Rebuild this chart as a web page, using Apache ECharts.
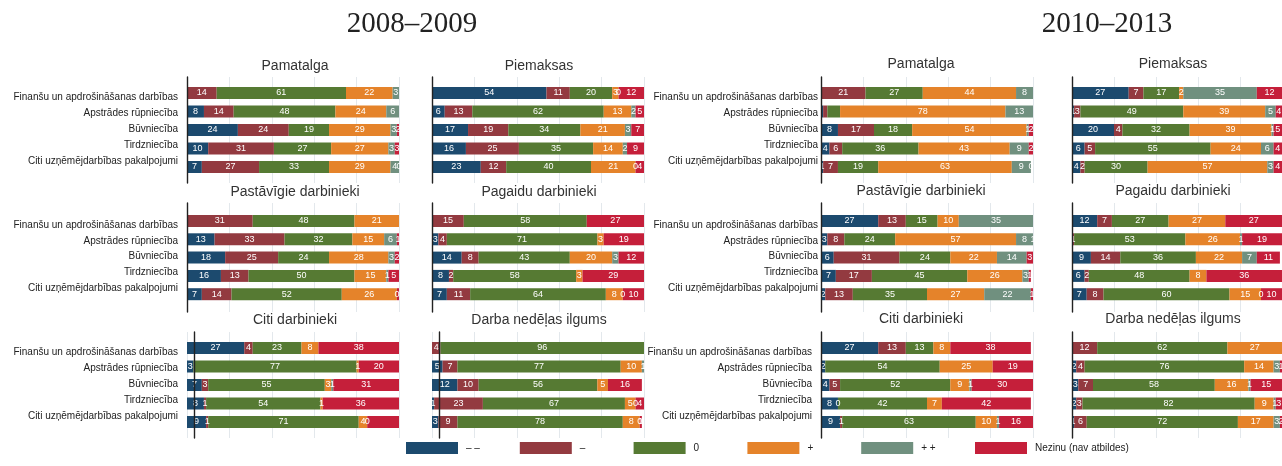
<!DOCTYPE html>
<html>
<head>
<meta charset="utf-8">
<style>
html, body {margin: 0; padding: 0; background: #fff;}
#chart {width: 1282px; height: 466px;}
</style>
</head>
<body>
<div id="chart"></div>
<script src="https://cdn.jsdelivr.net/npm/echarts@6/dist/echarts.min.js"></script>
<script>
// kategorijas (rindas) un atbilžu grupas (segmenti)
var categories = ['Finanšu un apdrošināšanas darbības', 'Apstrādes rūpniecība', 'Būvniecība', 'Tirdzniecība', 'Citi uzņēmējdarbības pakalpojumi'];
var answers = ['– –', '–', '0', '+', '+ +', 'Nezinu (nav atbildes)'];
var periods = ['2008–2009', '2010–2013'];
var panelTitles = ['Pamatalga', 'Piemaksas', 'Pastāvīgie darbinieki', 'Pagaidu darbinieki', 'Citi darbinieki', 'Darba nedēļas ilgums'];

// katrā rindā: – –, –, 0, +, + +, nezinu (%)
var pamatalga0809 = [
  [null, 14, 61, 22, 3, null],
  [8, 14, 48, 24, 6, null],
  [24, 24, 19, 29, 3, 2],
  [10, 31, 27, 27, 3, 3],
  [7, 27, 33, 29, 4, 0]
];
var piemaksas0809 = [
  [54, 11, 20, 3, 0, 12],
  [6, 13, 62, 13, 2, 5],
  [17, 19, 34, 21, 3, 7],
  [16, 25, 35, 14, 2, 9],
  [23, 12, 40, 21, 0, 4]
];
var pastavigie0809 = [
  [null, 31, 48, 21, null, null],
  [13, 33, 32, 15, 6, 1],
  [18, 25, 24, 28, 3, 2],
  [16, 13, 50, 15, 1, 5],
  [7, 14, 52, 26, 0, 1]
];
var pagaidu0809 = [
  [null, 15, 58, null, null, 27],
  [3, 4, 71, 3, null, 19],
  [14, 8, 43, 20, 3, 12],
  [8, 2, 58, 3, null, 29],
  [7, 11, 64, 8, 0, 10]
];
var citi0809 = [
  [27, 4, 23, 8, null, 38],
  [3, null, 77, 1, null, 20],
  [7, 3, 55, 3, 1, 31],
  [8, 1, 54, 1, null, 36],
  [9, 1, 71, 4, 0, 16]
];
var nedela0809 = [
  [null, 4, 96, null, null, null],
  [5, 7, 77, 10, 1, 1],
  [12, 10, 56, 5, null, 16],
  [1, 23, 67, 5, 0, 4],
  [3, 9, 78, 8, 0, 1]
];
var pamatalga1013 = [
  [null, 21, 27, 44, 8, null],
  [1, 2, 6, 78, 13, null],
  [8, 17, 18, 54, 1, 2],
  [4, 6, 36, 43, 9, 2],
  [1, 7, 19, 63, 9, 0]
];
var piemaksas1013 = [
  [27, 7, 17, 2, 35, 12],
  [1, 3, 49, 39, 5, 4],
  [20, 4, 32, 39, 1, 5],
  [6, 5, 55, 24, 6, 4],
  [4, 2, 30, 57, 3, 4]
];
var pastavigie1013 = [
  [27, 13, 15, 10, 35, null],
  [3, 8, 24, 57, 8, 1],
  [6, 31, 24, 22, 14, 3],
  [7, 17, 45, 26, 3, 1],
  [2, 13, 35, 27, 22, 1]
];
var pagaidu1013 = [
  [12, 7, 27, 27, null, 27],
  [null, 1, 53, 26, 1, 19],
  [9, 14, 36, 22, 7, 11],
  [6, 2, 48, 8, null, 36],
  [7, 8, 60, 15, 0, 10]
];
var citi1013 = [
  [27, 13, 13, 8, null, 38],
  [2, null, 54, 25, null, 19],
  [4, 5, 52, 9, 1, 30],
  [8, 0, 42, 7, null, 42],
  [9, 1, 63, 10, 1, 16]
];
var nedela1013 = [
  [null, 12, 62, 27, null, null],
  [2, 4, 76, 14, 3, 1],
  [3, 7, 58, 16, 1, 15],
  [2, 3, 82, 9, 1, 3],
  [1, 6, 72, 17, 3, 2]
];
// segmenti bez skaitļa uz joslas: [panelis, rinda, segments]
var unlabeled = [[6, 1, 0], [6, 1, 1], [6, 1, 2], [2, 4, 5], [4, 4, 5]];

var panelData = [pamatalga0809, piemaksas0809, pastavigie0809, pagaidu0809, citi0809, nedela0809,
                 pamatalga1013, piemaksas1013, pastavigie1013, pagaidu1013, citi1013, nedela1013];

var colors = ['#1c4a6e', '#933a40', '#567a33', '#e5832a', '#70907f', '#c51f3a'];
var font = '"Liberation Sans", Arial, sans-serif';

// izkārtojums
var colLeft = [187, 432, 821, 1072];
var gridWidth = 212;
var decoRows = [[77, 183], [203, 312], [332, 438]];
var barRows = [[83.75, 92.5], [211.85, 91.5], [338.75, 92.5]];
var titleX = [295, 539, 921, 1173];
var titleY = [[67, 193, 321], [65, 192, 320]];
var labelShift = [4, 1.5, -1, -3.5, -6];

var rich = {};
labelShift.forEach(function (d, i) {
  rich['l' + i] = {
    fontSize: 10, fontFamily: font, color: '#222',
    padding: d >= 0 ? [2 * d, 0, 0, 0] : [0, 0, -2 * d, 0]
  };
});

var grid = [], xAxis = [], yAxis = [], series = [], title = [];

periods.forEach(function (p, g) {
  title.push({
    text: p, left: g === 0 ? 412 : 1107, top: 10, textAlign: 'center', padding: 0,
    textStyle: {fontFamily: '"Liberation Serif", "Times New Roman", serif', fontSize: 29, fontWeight: 'normal', color: '#222'}
  });
});

panelData.forEach(function (rows, pi) {
  var g = Math.floor(pi / 6), r = Math.floor((pi % 6) / 2), c = pi % 2;
  var left = colLeft[g * 2 + c];
  var di = grid.length;
  // fons: režģa līnijas un ass
  grid.push({left: left, top: decoRows[r][0], width: gridWidth, height: decoRows[r][1] - decoRows[r][0]});
  xAxis.push({
    gridIndex: di, type: 'value', min: 0, max: 100, interval: 20,
    axisLabel: {show: false}, axisTick: {show: false}, axisLine: {show: false},
    splitLine: {show: true, lineStyle: {color: '#e3e8ec', width: 1}}
  });
  yAxis.push({
    gridIndex: di, type: 'value', min: 0, max: 1, z: 5,
    offset: (g === 0 && r === 2) ? -7.5 : 0,
    axisLabel: {show: false}, axisTick: {show: false}, splitLine: {show: false},
    axisLine: {show: true, lineStyle: {color: '#222', width: 1.4}}
  });
  // joslas
  var bi = grid.length;
  grid.push({left: left, top: barRows[r][0], width: gridWidth, height: barRows[r][1]});
  xAxis.push({gridIndex: bi, type: 'value', min: 0, max: 100, show: false});
  yAxis.push({
    gridIndex: bi, type: 'category', inverse: true, data: categories,
    axisLine: {show: false}, axisTick: {show: false}, splitLine: {show: false},
    axisLabel: {
      show: c === 0,
      margin: (g === 1 && r < 2) ? 3 : 9,
      formatter: function (v, i) { return '{l' + i + '|' + v + '}'; },
      rich: rich
    }
  });
  title.push({
    text: panelTitles[r * 2 + c], left: titleX[g * 2 + c], top: titleY[g][r] - 8,
    textAlign: 'center', padding: 0,
    textStyle: {fontFamily: font, fontSize: 14, fontWeight: 'normal', color: '#333'}
  });
  answers.forEach(function (name, si) {
    series.push({
      name: name, type: 'bar', stack: 'p' + pi,
      xAxisIndex: bi, yAxisIndex: bi, barWidth: 12,
      itemStyle: {color: colors[si]},
      label: {show: true, position: 'inside', color: '#fff', fontSize: 9, fontFamily: font},
      emphasis: {disabled: true},
      data: rows.map(function (row, ri) {
        var v = row[si];
        var hide = unlabeled.some(function (u) { return u[0] === pi && u[1] === ri && u[2] === si; });
        return hide ? {value: v, label: {show: false}} : v;
      })
    });
  });
});

// leģenda: katrs ieraksts savā vietā, vienādos atstatumos
var legend = answers.map(function (name, i) {
  return {
    data: [name], left: 406 + i * 113.8, top: 442, icon: 'rect', padding: 0,
    itemWidth: 52, itemHeight: 12, itemGap: 0, selectedMode: false,
    textStyle: {fontFamily: font, fontSize: 10, color: '#222', padding: [0, 0, 0, 3]}
  };
});

var chart = echarts.init(document.getElementById('chart'));
chart.setOption({
  animation: false,
  color: colors,
  title: title,
  grid: grid,
  xAxis: xAxis,
  yAxis: yAxis,
  legend: legend,
  series: series
});
</script>
</body>
</html>
